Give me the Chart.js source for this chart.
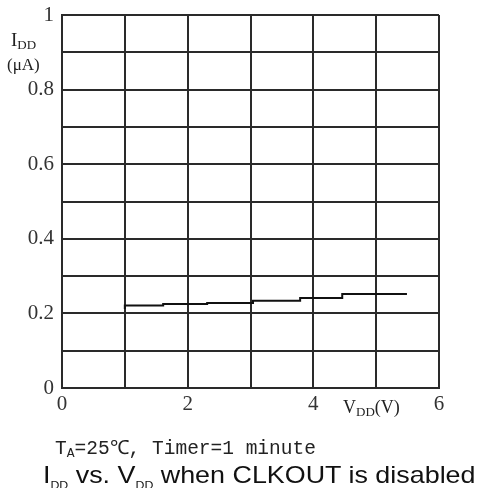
<!DOCTYPE html>
<html><head><meta charset="utf-8">
<script src="https://cdn.jsdelivr.net/npm/chart.js@4/dist/chart.umd.min.js"></script>
<style>
html,body{margin:0;padding:0;background:#fff;}
#wrap{position:relative;width:482px;height:488px;overflow:hidden;}
canvas{position:absolute;left:0;top:0;}
.lbl{position:absolute;color:#222;white-space:nowrap;line-height:1;}
.serif{font-family:"Liberation Serif","DejaVu Serif",serif;}
sub{font-size:60%;vertical-align:baseline;position:relative;top:0.25em;}
</style></head>
<body><div id="wrap">
<canvas id="c" width="482" height="488"></canvas>
<div class="lbl serif" style="left:11px;top:30px;font-size:19px;">I<sub style="font-size:13px;top:3px;">DD</sub></div>
<div class="lbl serif" style="left:7px;top:56px;font-size:17px;">(μA)</div>
<div class="lbl serif" style="left:343px;top:398px;font-size:18px;">V<sub style="font-size:13px;top:3px;">DD</sub>(V)</div>
<div class="lbl" style="left:55px;top:440px;font-size:19.5px;font-family:'Liberation Mono','DejaVu Sans Mono',monospace;">T<sub style="font-size:13px;top:3px;">A</sub>=25℃, Timer=1 minute</div>
<div class="lbl" style="left:43px;top:463px;font-size:24px;font-family:'Liberation Sans',Arial,sans-serif;color:#111;transform-origin:0 0;transform:scaleX(1.12);">I<sub style="font-size:11px;top:6px;">DD</sub> vs. V<sub style="font-size:11px;top:6px;">DD</sub> when CLKOUT is disabled</div>
</div>
<script>
const vdd = [1.0, 1.61, 2.31, 3.04, 3.79, 4.46, 5.33, 5.49];
const idd = [0.212, 0.221, 0.225, 0.228, 0.234, 0.241, 0.252, 0.252];
const xTickLabels = ['0', '', '2', '', '4', '', '6'];
const yTickLabels = ['0', '', '0.2', '', '0.4', '', '0.6', '', '0.8', '', '1'];

const gridColor = '#2a2a2a';
const tickFont = {family: 'Liberation Serif', size: 21};

new Chart(document.getElementById('c'), {
  type: 'line',
  data: {
    datasets: [{
      data: vdd.map((x, i) => ({x: x, y: idd[i]})),
      borderColor: '#111',
      borderWidth: 2,
      pointRadius: 0,
      stepped: 'after',
      fill: false
    }]
  },
  options: {
    responsive: false,
    animation: false,
    layout: {padding: {left: 0, right: 43, top: 15, bottom: 0}},
    plugins: {legend: {display: false}, tooltip: {enabled: false}},
    scales: {
      x: {
        type: 'linear', min: 0, max: 6,
        ticks: {stepSize: 1, autoSkip: false, maxRotation: 0, color: '#333', font: tickFont, padding: 4,
          callback: (v, i) => xTickLabels[Math.round(v)] ?? ''},
        grid: {color: gridColor, lineWidth: 2, drawTicks: false},
        border: {color: gridColor, width: 2},
        afterFit: s => { s.height = 100; s.paddingLeft = 0; s.paddingRight = 0; }
      },
      y: {
        type: 'linear', min: 0, max: 1,
        ticks: {stepSize: 0.1, autoSkip: false, color: '#333', font: tickFont, padding: 8,
          callback: (v) => yTickLabels[Math.round(v * 10)] ?? ''},
        grid: {color: gridColor, lineWidth: 2, drawTicks: false},
        border: {color: gridColor, width: 2},
        afterFit: s => { s.width = 62; s.paddingTop = 0; s.paddingBottom = 0; }
      }
    }
  }
});
</script>
</body></html>
